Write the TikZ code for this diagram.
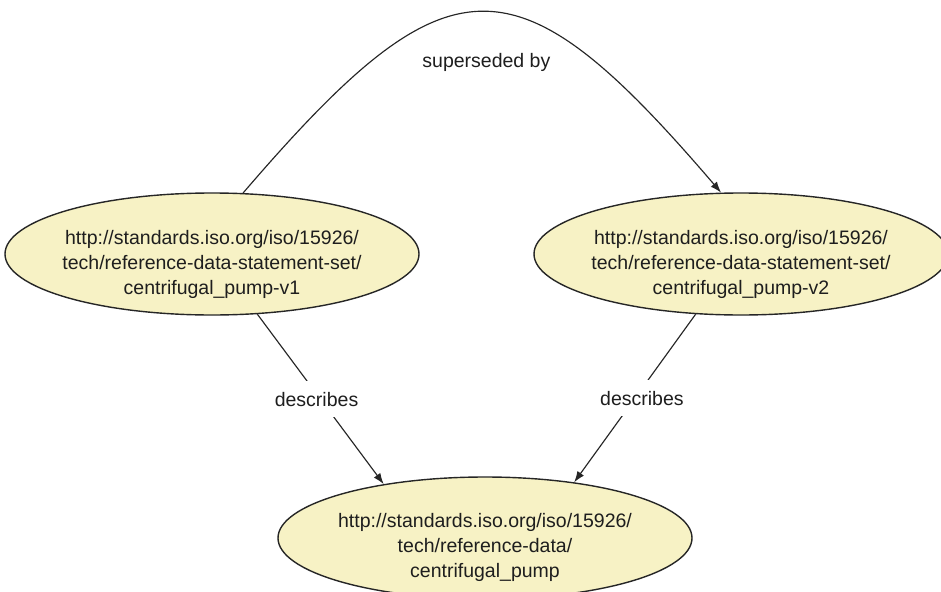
\documentclass[tikz,border=0pt]{standalone}
\usepackage{fontspec}
\setmainfont{Liberation Sans}
\usetikzlibrary{arrows.meta,shapes.geometric}
\definecolor{nodefill}{HTML}{F7F2C5}
\definecolor{inkline}{HTML}{262626}
\definecolor{inktext}{HTML}{1E1E1E}
\begin{document}
\begin{tikzpicture}[x=1pt,y=-1pt,
  uri/.style={ellipse, draw=inkline, line width=1.4pt, fill=nodefill,
    minimum width=414pt, minimum height=122pt, inner sep=0pt},
  uritext/.style={align=center, font=\fontsize{19.5}{25}\selectfont,
    text=inktext, inner sep=0pt},
  rel/.style={draw=inkline, line width=1.15pt, -{Latex[length=11pt,width=8pt]}},
  rellabel/.style={font=\fontsize{19.5}{24}\selectfont, text=inktext,
    fill=white, inner xsep=4pt, inner ysep=11pt}]
\useasboundingbox (0,0) rectangle (941,591);
\fill[white] (0,0) rectangle (941,591);

% statement sets and the described class
\node[uri] (v1) at (212,254) {};
\node[uri] (v2) at (741,254) {};
\node[uri] (cls) at (485,538) {};

\node[uritext] (v1t) at (212,264)
  {http://standards.iso.org/iso/15926/\\tech/reference-data-statement-set/\\centrifugal\_pump-v1};
\node[uritext] (v2t) at (741,264)
  {http://standards.iso.org/iso/15926/\\tech/reference-data-statement-set/\\centrifugal\_pump-v2};
\node[uritext] (clst) at (485,547)
  {http://standards.iso.org/iso/15926/\\tech/reference-data/\\centrifugal\_pump};

% relations
\draw[rel] (v1.63) .. controls (450,-48) and (515,-48) .. (v2.108)
  node[pos=0.5, yshift=-50pt, xshift=4pt, font=\fontsize{19.5}{24}\selectfont,
       text=inktext] (sup) {superseded by};
\draw[rel] (v1.307) -- node[rellabel, xshift=-4pt] (d1) {describes} (cls.152);
\draw[rel] (v2.233) -- node[rellabel, xshift=7pt] (d2) {describes} (cls.32);
\end{tikzpicture}
\end{document}
